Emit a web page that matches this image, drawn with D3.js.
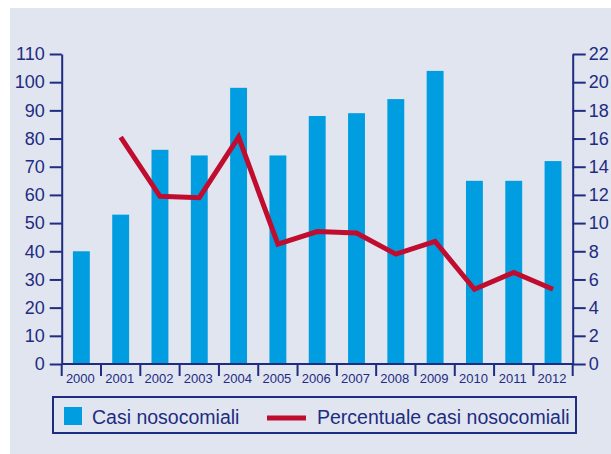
<!DOCTYPE html>
<html>
<head>
<meta charset="utf-8">
<script src="https://cdn.jsdelivr.net/npm/d3@7"></script>
<style>
  body { margin: 0; background: #fff; }
  svg { display: block; font-family: "Liberation Sans", Arial, sans-serif; }
  .axis path, .axis line { stroke: #1e2c82; stroke-width: 2; }
  .axis text { fill: #1e2c82; }
</style>
</head>
<body>
<div id="chart"></div>
<script>
var years = ["2000","2001","2002","2003","2004","2005","2006","2007","2008","2009","2010","2011","2012"];
var casi = [40, 53, 76, 74, 98, 74, 88, 89, 94, 104, 65, 65, 72];
var percYears = ["2001","2002","2003","2004","2005","2006","2007","2008","2009","2010","2011","2012"];
var perc = [16.1, 11.9, 11.8, 16.1, 8.5, 9.4, 9.3, 7.8, 8.7, 5.3, 6.5, 5.3];
var leftTicks = [0, 10, 20, 30, 40, 50, 60, 70, 80, 90, 100, 110];
var rightTicks = [0, 2, 4, 6, 8, 10, 12, 14, 16, 18, 20, 22];
var legendLabels = ["Casi nosocomiali", "Percentuale casi nosocomiali"];

var width = 611, height = 454;
var navy = "#1e2c82", blue = "#009ee0", red = "#c00d2f";
var plotLeft = 61.7, plotRight = 572.7, plotTop = 54, plotBottom = 364;

var svg = d3.select("#chart").append("svg")
    .attr("width", width)
    .attr("height", height);

svg.append("rect")
    .attr("x", 10).attr("y", 8)
    .attr("width", width - 10).attr("height", height - 8)
    .attr("fill", "#e1e5ef");

var x = d3.scaleBand().domain(years).range([plotLeft, plotRight]);
var yL = d3.scaleLinear().domain([0, 110]).range([plotBottom, plotTop]);
var yR = d3.scaleLinear().domain([0, 22]).range([plotBottom, plotTop]);

var barW = x.bandwidth() * 0.43;

svg.append("g")
  .selectAll("rect")
  .data(years)
  .enter().append("rect")
    .attr("x", function(d){ return x(d) + (x.bandwidth() - barW) / 2; })
    .attr("y", function(d, i){ return yL(casi[i]); })
    .attr("width", barW)
    .attr("height", function(d, i){ return plotBottom - yL(casi[i]); })
    .attr("fill", blue);

// left axis
var gL = svg.append("g")
    .attr("class", "axis")
    .attr("transform", "translate(" + plotLeft + ",0)")
    .call(d3.axisLeft(yL).tickValues(leftTicks).tickSize(12).tickSizeOuter(0).tickPadding(5));
gL.selectAll("text").attr("font-size", 18);

// right axis
var gR = svg.append("g")
    .attr("class", "axis")
    .attr("transform", "translate(" + plotRight + ",0)")
    .call(d3.axisRight(yR).tickValues(rightTicks).tickSize(13).tickSizeOuter(0).tickPadding(3));
gR.selectAll("text").attr("font-size", 18);

// baseline
svg.append("line")
    .attr("x1", plotLeft).attr("x2", plotRight)
    .attr("y1", plotBottom).attr("y2", plotBottom)
    .attr("stroke", navy).attr("stroke-width", 2);

// category dividers
svg.append("g")
  .selectAll("line")
  .data(years.slice(1))
  .enter().append("line")
    .attr("x1", function(d){ return x(d); })
    .attr("x2", function(d){ return x(d); })
    .attr("y1", plotBottom).attr("y2", plotBottom + 12)
    .attr("stroke", navy).attr("stroke-width", 2);
svg.selectAll(".edge")
  .data([plotLeft, plotRight])
  .enter().append("line")
    .attr("x1", function(d){ return d; })
    .attr("x2", function(d){ return d; })
    .attr("y1", plotBottom).attr("y2", plotBottom + 12)
    .attr("stroke", navy).attr("stroke-width", 2);

// year labels
svg.append("g")
  .selectAll("text")
  .data(years)
  .enter().append("text")
    .attr("x", function(d){ return x(d) + x.bandwidth() / 2 - 1; })
    .attr("y", plotBottom + 19)
    .attr("text-anchor", "middle")
    .attr("font-size", 13)
    .attr("fill", navy)
    .text(function(d){ return d; });

// line
var line = d3.line()
    .x(function(d, i){ return x(percYears[i]) + x.bandwidth() / 2; })
    .y(function(d){ return yR(d); });

svg.append("path")
    .datum(perc)
    .attr("d", line)
    .attr("fill", "none")
    .attr("stroke", red)
    .attr("stroke-width", 5)
    .attr("stroke-linejoin", "miter");

// legend
svg.append("rect")
    .attr("x", 53).attr("y", 397)
    .attr("width", 523).attr("height", 36)
    .attr("fill", "none")
    .attr("stroke", navy)
    .attr("stroke-width", 2);
svg.append("rect")
    .attr("x", 64).attr("y", 407)
    .attr("width", 18).attr("height", 18)
    .attr("fill", blue);
svg.append("text")
    .attr("x", 92).attr("y", 424)
    .attr("font-size", 19.5)
    .attr("fill", navy)
    .text(legendLabels[0]);
svg.append("line")
    .attr("x1", 267).attr("x2", 306)
    .attr("y1", 418).attr("y2", 418)
    .attr("stroke", red).attr("stroke-width", 5);
svg.append("text")
    .attr("x", 317).attr("y", 424)
    .attr("font-size", 19.5)
    .attr("fill", navy)
    .text(legendLabels[1]);
</script>
</body>
</html>
